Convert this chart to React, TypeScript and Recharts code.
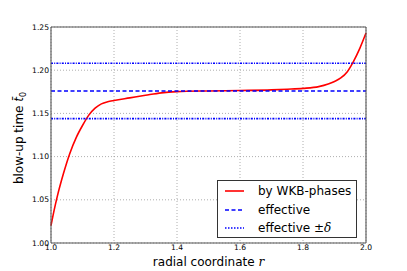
import React from 'react';
import { LineChart, Line, XAxis, YAxis, CartesianGrid, Legend, ReferenceLine } from 'recharts';

// radial coordinate r and blow-up time from WKB phases
const radius = [1.0, 1.01, 1.02, 1.04, 1.06, 1.08, 1.1, 1.12, 1.14, 1.16, 1.18, 1.2, 1.25, 1.3, 1.35, 1.4, 1.5, 1.6, 1.7, 1.75, 1.8, 1.85, 1.88, 1.9, 1.92, 1.94, 1.96, 1.98, 2.0];
const blowUpTime = [1.02, 1.038, 1.054, 1.081, 1.104, 1.122, 1.136, 1.148, 1.156, 1.161, 1.1635, 1.165, 1.168, 1.171, 1.1738, 1.1752, 1.176, 1.1765, 1.1772, 1.178, 1.179, 1.181, 1.184, 1.187, 1.191, 1.198, 1.21, 1.225, 1.243];

const effectiveTime = 1.176;
const delta = 0.032;

const xTicks = [1.0, 1.2, 1.4, 1.6, 1.8, 2.0];
const yTicks = [1.0, 1.05, 1.1, 1.15, 1.2, 1.25];

const data = radius.map((r, i) => ({ r, t: blowUpTime[i] }));

const FONT = '"DejaVu Sans", sans-serif';

const legendItems = [
  { key: 'wkb', label: <>by WKB-phases</>, color: '#ff0000', dash: undefined as string | undefined },
  { key: 'eff', label: <>effective</>, color: '#0000ff', dash: '4 2.5' },
  {
    key: 'effd',
    label: (
      <>
        effective <span>±</span>
        <span style={{ fontStyle: 'italic', fontFamily: '"DejaVu Serif", serif' }}>δ</span>
      </>
    ),
    color: '#0000ff',
    dash: '1.5 1.5',
  },
];

const LegendBox = () => (
  <div
    style={{
      boxSizing: 'border-box',
      width: 140,
      height: 58,
      border: '1px solid #333',
      background: '#fff',
      padding: '1px 0',
      fontFamily: FONT,
      fontSize: 12,
      color: '#000',
    }}
  >
    {legendItems.map((it) => (
      <div key={it.key} style={{ display: 'flex', alignItems: 'center', height: 18.5 }}>
        <svg width={19} height={4} style={{ marginLeft: 7, marginRight: 14 }}>
          <line x1={0} y1={2} x2={19} y2={2} stroke={it.color} strokeWidth={1.6} strokeDasharray={it.dash} />
        </svg>
        <span style={{ whiteSpace: 'nowrap' }}>{it.label}</span>
      </div>
    ))}
  </div>
);

const YLabel = (props: any) => {
  const vb = props.viewBox || { x: 0, y: 27, width: 51, height: 216 };
  const cx = vb.x + 23;
  const cy = vb.y + vb.height / 2 + 3;
  return (
    <text
      x={cx}
      y={cy}
      transform={`rotate(-90, ${cx}, ${cy})`}
      textAnchor="middle"
      fontFamily={FONT}
      fontSize={12}
      fill="#000"
    >
      blow-up time <tspan fontStyle="italic">t̄</tspan>
      <tspan fontSize={8} dy={3}>0</tspan>
    </text>
  );
};

const XLabel = (props: any) => {
  const vb = props.viewBox || { x: 51, y: 243, width: 315, height: 28 };
  return (
    <text x={vb.x + vb.width / 2} y={vb.y + 23} textAnchor="middle" fontFamily={FONT} fontSize={12} fill="#000">
      radial coordinate <tspan fontStyle="italic" fontFamily='"DejaVu Serif", serif'>r</tspan>
    </text>
  );
};

export default function App() {
  const tickStyle = { fontSize: 7.6, fill: '#000', fontFamily: FONT };
  const frame = { stroke: '#555', strokeWidth: 1.1 };
  return (
    <div style={{ position: 'absolute', left: 0, top: 0, background: '#fff' }}>
      <LineChart width={407} height={271} data={data} margin={{ top: 27, right: 41, bottom: 0, left: 0 }}>
        <CartesianGrid stroke="#999" strokeDasharray="1 2" strokeWidth={0.8} />
        <XAxis
          dataKey="r"
          type="number"
          domain={[1, 2]}
          ticks={xTicks}
          tickFormatter={(v) => v.toFixed(1)}
          height={28}
          tick={tickStyle}
          tickLine={false}
          axisLine={false}
          tickSize={0}
          tickMargin={2}
          label={<XLabel />}
        />
        <YAxis
          type="number"
          domain={[1, 1.25]}
          ticks={yTicks}
          tickFormatter={(v) => v.toFixed(2)}
          width={51}
          tick={tickStyle}
          tickLine={false}
          axisLine={false}
          tickSize={0}
          tickMargin={2}
          allowDataOverflow
          label={<YLabel />}
        />
        {/* inward ticks and frame on all four sides */}
        <XAxis xAxisId="bm" dataKey="r" type="number" domain={[1, 2]} ticks={xTicks} orientation="bottom" mirror tick={false} tickSize={4} tickLine={frame} axisLine={frame} />
        <XAxis xAxisId="tm" dataKey="r" type="number" domain={[1, 2]} ticks={xTicks} orientation="top" mirror tick={false} tickSize={4} tickLine={frame} axisLine={frame} />
        <YAxis yAxisId="lm" type="number" domain={[1, 1.25]} ticks={yTicks} orientation="left" mirror tick={false} tickSize={4} tickLine={frame} axisLine={frame} />
        <YAxis yAxisId="rm" type="number" domain={[1, 1.25]} ticks={yTicks} orientation="right" mirror tick={false} tickSize={4} tickLine={frame} axisLine={frame} />
        <Line dataKey="t" type="monotone" stroke="#ff0000" strokeWidth={1.6} dot={false} isAnimationActive={false} />
        <ReferenceLine y={effectiveTime} stroke="#0000ff" strokeWidth={1.6} strokeDasharray="4 2.5" />
        <ReferenceLine y={effectiveTime + delta} stroke="#0000ff" strokeWidth={1.6} strokeDasharray="2 1.2 1 1.2" />
        <ReferenceLine y={effectiveTime - delta} stroke="#0000ff" strokeWidth={1.6} strokeDasharray="2 1.2 1 1.2" />
        <Legend
          layout="vertical"
          align="center"
          verticalAlign="middle"
          content={<LegendBox />}
          wrapperStyle={{ left: 217, top: 180, width: 140, height: 58 }}
        />
      </LineChart>
    </div>
  );
}
